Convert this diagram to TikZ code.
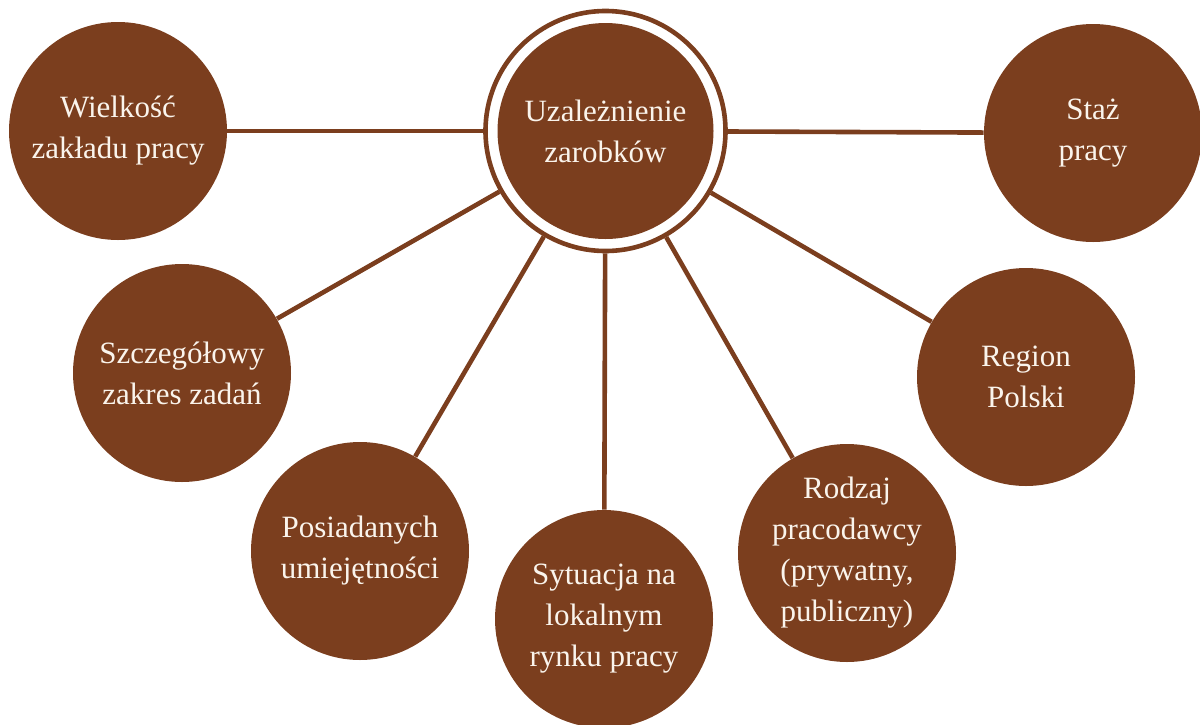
\documentclass[tikz,border=0pt]{standalone}
\usepackage{fontspec}
\setmainfont{Liberation Serif}
\usetikzlibrary{positioning}
\definecolor{bark}{RGB}{123,62,30}
\definecolor{cream}{RGB}{250,244,236}

\begin{document}
\begin{tikzpicture}[x=0.5pt, y=-0.5pt,
factor/.style={circle, fill=bark, text=cream, minimum size=109pt, inner sep=0pt,
  align=center, font=\fontsize{15.5}{20.5}\selectfont},
ring/.style={circle, draw=bark, line width=2.3pt, minimum size=120pt, inner sep=0pt},
link/.style={draw=bark, line width=2.3pt},
]
\useasboundingbox (0,0) rectangle (1200,724);

\node[factor, minimum size=108pt] (nhub) at (605.5,131) {Uzależnienie\\zarobków};
\node[ring] (nring) at (nhub) {};

\node[factor] (nsize) at (118,131) {Wielkość\\zakładu pracy};
\node[factor] (nstaz) at (1093,133) {Staż\\pracy};
\node[factor] (ntasks) at (182,373) {Szczegółowy\\zakres zadań};
\node[factor] (nregion) at (1026,377) {Region\\Polski};
\node[factor] (nskills) at (360,551) {Posiadanych\\umiejętności};
\node[factor] (nmarket) at (604,619) {Sytuacja na\\lokalnym\\rynku pracy};
\node[factor] (nemployer) at (847,553) {Rodzaj\\pracodawcy\\(prywatny,\\publiczny)};

\draw[link] (nring) -- (nsize);
\draw[link] (nring) -- (nstaz);
\draw[link] (nring) -- (ntasks);
\draw[link] (nring) -- (nregion);
\draw[link] (nring) -- (nskills);
\draw[link] (nring) -- (nmarket);
\draw[link] (nring) -- (nemployer);

\end{tikzpicture}
\end{document}
